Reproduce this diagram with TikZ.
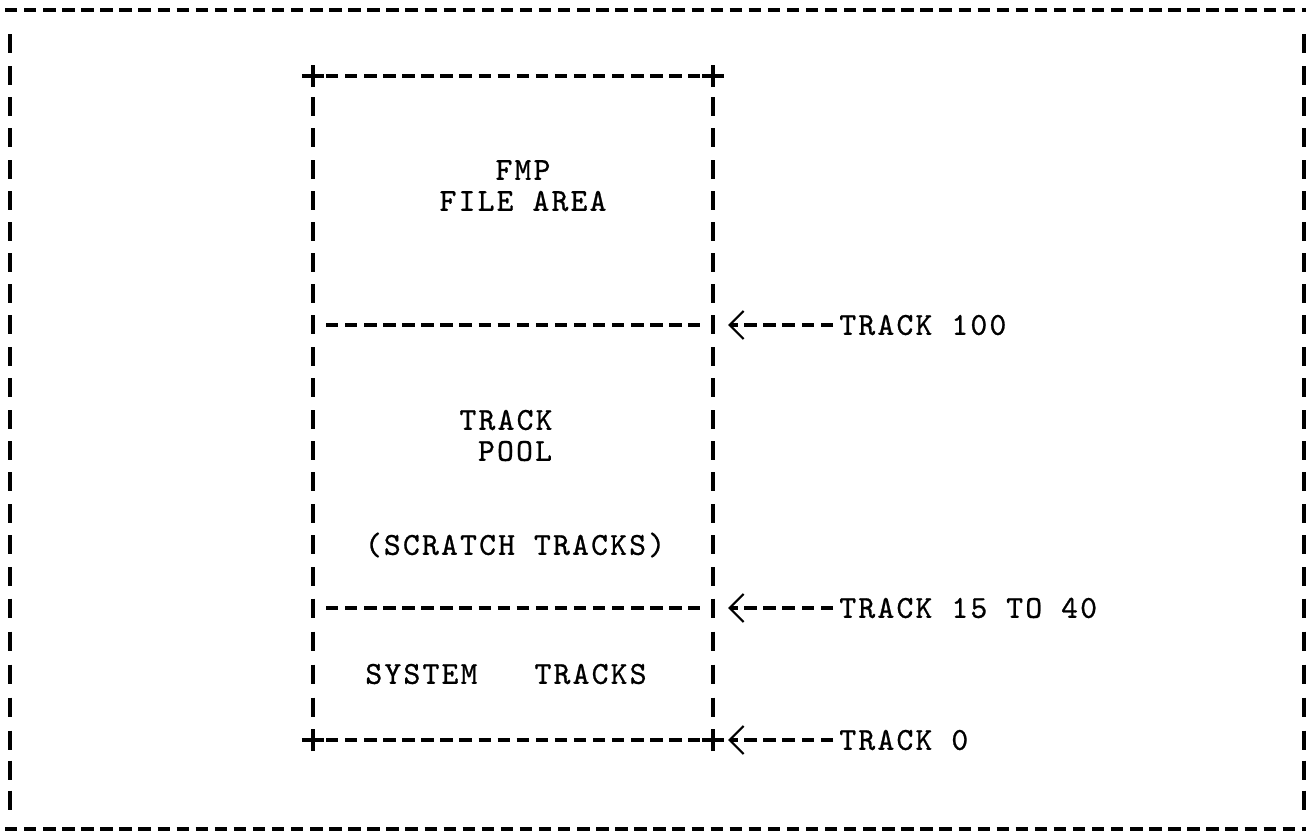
\documentclass[tikz,border=0pt]{standalone}
\usepackage{fontspec}
\newfontfamily\typewriter[LetterSpace=7, FakeBold=0.8]{lmmono10-regular.otf}
\usetikzlibrary{arrows.meta, shapes.misc}

\begin{document}
\begin{tikzpicture}[x=0.5pt, y=-0.5pt, >={Straight Barb[length=7pt, width=14pt, line width=1.1pt]}]
      \tikzstyle{txt} = [font=\typewriter\fontsize{16}{17}\selectfont, inner sep=0pt, text height=9.8pt, text depth=0pt]
      \tikzstyle{dashline} = [line width=1.9pt, dash pattern=on 6.2pt off 3.335pt]
      \tikzstyle{bar} = [line width=1.6pt]
      \tikzstyle{plus} = [cross out, draw, rotate=45, minimum size=6.2pt, inner sep=0pt, line width=1.7pt]

      \useasboundingbox (0,0) rectangle (1306,833);

      % Outer frame
      \coordinate (otl) at (5,10);
      \coordinate (otr) at (1306,10);
      \coordinate (obl) at (5,829);
      \coordinate (obr) at (1306,829);
      \draw[dashline] (otl) -- (otr);
      \draw[dashline] (obl) -- (obr);
      \foreach \y in {44,76,107,138,170,201,232,263,294,325,357,388,420,451,482,514,545,577,608,641,674,707,740,770,800} {
        \draw[bar] (10,\y-9.5) -- (10,\y+9.5);
        \draw[bar] (1304,\y-9.5) -- (1304,\y+9.5);
      }

      % Disc box
      \node (tl) [plus] at (313,76) {};
      \node (tr) [plus] at (713,76) {};
      \node (bl) [plus] at (313,740) {};
      \node (br) [plus] at (713,740) {};
      \coordinate (a1) at (313,325);
      \coordinate (a2) at (713,325);
      \coordinate (b1) at (313,608);
      \coordinate (b2) at (713,608);
      \foreach \y in {107,138,170,201,232,263,294,325,357,388,420,451,482,514,545,577,608,641,674,707} {
        \draw[bar] (313,\y-9.5) -- (313,\y+9.5);
        \draw[bar] (713,\y-9.5) -- (713,\y+9.5);
      }
      \draw[dashline] ([xshift=6.5pt]tl.center) -- ([xshift=-6.5pt]tr.center);
      \draw[dashline] ([xshift=6.5pt]a1) -- ([xshift=-6.5pt]a2);
      \draw[dashline] ([xshift=6.5pt]b1) -- ([xshift=-6.5pt]b2);
      \draw[dashline] ([xshift=6.5pt]bl.center) -- ([xshift=-6.5pt]br.center);

      % Areas
      \node (fmp) [txt] at (523,170) {FMP};
      \node (file) [txt] at (523,201) {FILE AREA};
      \node (pool1) [txt] at (506,420) {TRACK};
      \node (pool2) [txt] at (515,451) {POOL};
      \node (scratch) [txt] at (515,545) {(SCRATCH TRACKS)};
      \node (system) [txt] at (506,674) {SYSTEM~~~TRACKS};

      % Track markers
      \node (t100) [txt, anchor=west] at (839,325) {TRACK 100};
      \node (t15) [txt, anchor=west] at (839,608) {TRACK 15 TO 40};
      \node (t0) [txt, anchor=west] at (839,740) {TRACK 0};
      \draw[dashline, ->, shorten >=7.5pt] ([xshift=-3pt]t100.west) -- (a2);
      \draw[dashline, ->, shorten >=7.5pt] ([xshift=-3pt]t15.west) -- (b2);
      \draw[dashline, ->, shorten >=7.5pt] ([xshift=-3pt]t0.west) -- (br.center);
\end{tikzpicture}
\end{document}
